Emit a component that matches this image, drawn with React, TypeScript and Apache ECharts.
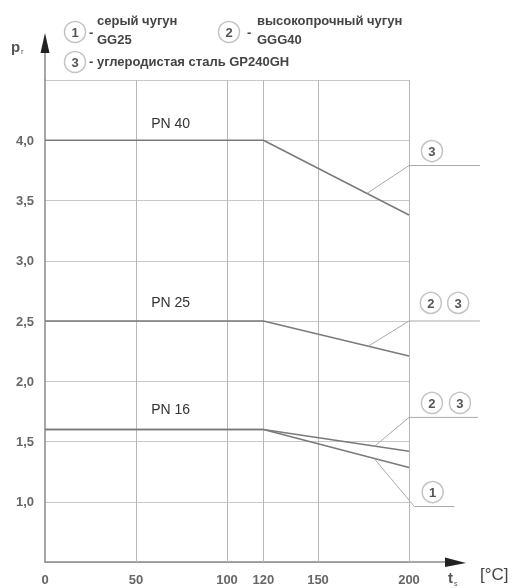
import React, { useEffect, useRef } from 'react';
import * as echarts from 'echarts';

// temperature points (°C) and allowable pressure values (MPa)
const temps = [0, 120, 200];
const pn40Steel = [4.0, 4.0, 3.38];
const pn25GGG = [2.5, 2.5, 2.21];
const pn16GGG = [1.6, 1.6, 1.42];
const pn16GG = [1.6, 1.6, 1.285];

const xTickLabels = [0, 50, 100, 120, 150, 200];
const xGridValues = [50, 100, 120, 150, 200];

// annotations in data space
const pnTexts = ['PN 40', 'PN 25', 'PN 16'];
const pnTextAt = [[69, 4.14], [69, 2.66], [69, 1.77]];
const leaderLines = [
  [[177, 3.56], [200, 3.79], [239, 3.79]],
  [[177.5, 2.29], [200, 2.5], [239, 2.5]],
  [[181, 1.46], [200, 1.7], [238, 1.7]],
  [[181, 1.356], [203, 0.96], [225, 0.96]],
];
const markerNums = ['3', '2', '3', '2', '3', '1'];
const markerAt = [[212.6, 3.91], [212, 2.65], [227, 2.65], [212.6, 1.82], [228, 1.82], [213, 1.08]];

const FONT = '"Liberation Sans", Arial, sans-serif';
const TXT = '#555';

export default function App() {
  const ref = useRef<HTMLDivElement>(null);
  useEffect(() => {
    if (!ref.current) return;
    const chart = echarts.init(ref.current, null, { renderer: 'svg' });
    const lineStyle = { color: '#7a7a7a', width: 1.5 };
    const mk = (name: string, vals: number[]) => ({
      name,
      type: 'line',
      data: temps.map((t, i) => [t, vals[i]]),
      symbol: 'none',
      lineStyle,
      z: 5,
    });
    chart.setOption({
      animation: false,
      grid: { left: 45, right: 103, top: 80, bottom: 26 },
      xAxis: {
        type: 'value',
        min: 0,
        max: 200,
        interval: 10,
        axisLine: { show: true, lineStyle: { color: '#8a8a8a', width: 1.5 } },
        axisTick: { show: false },
        splitLine: { show: false },
        axisLabel: {
          margin: 11,
          fontFamily: FONT,
          fontSize: 13,
          fontWeight: 'bold',
          color: '#666',
          formatter: (v: number) => (xTickLabels.indexOf(v) >= 0 ? String(v) : ''),
        },
      },
      yAxis: {
        type: 'value',
        min: 0.5,
        max: 4.5,
        interval: 0.5,
        axisLine: { show: true, lineStyle: { color: '#8a8a8a', width: 1.5 } },
        axisTick: { show: false },
        splitLine: { show: true, lineStyle: { color: '#c8c8c8', width: 1 } },
        axisLabel: {
          margin: 11,
          fontFamily: FONT,
          fontSize: 13,
          fontWeight: 'bold',
          color: '#666',
          formatter: (v: number) => (v === 0.5 || v === 4.5 ? '' : v.toFixed(1).replace('.', ',')),
        },
      },
      series: [
        {
          type: 'line',
          data: [],
          markLine: {
            silent: true,
            symbol: 'none',
            label: { show: false },
            lineStyle: { color: '#b8b8b8', width: 1, type: 'solid' },
            data: xGridValues.map((v) => ({ xAxis: v })),
          },
        },
        mk('PN40', pn40Steel),
        mk('PN25', pn25GGG),
        mk('PN16-23', pn16GGG),
        mk('PN16-1', pn16GG),
      ],
    });

    const px = (p: number[]) => chart.convertToPixel({ gridIndex: 0 }, p) as number[];
    const g: any[] = [];
    // axis extensions with arrows
    const o = px([0, 0.5]);
    const top = px([0, 4.5]);
    const right = px([200, 0.5]);
    g.push({ type: 'line', shape: { x1: o[0], y1: top[1], x2: o[0], y2: 45 }, style: { stroke: '#8a8a8a', lineWidth: 1.5 } });
    g.push({ type: 'polygon', shape: { points: [[o[0], 33], [o[0] - 4.5, 53], [o[0] + 4.5, 53]] }, style: { fill: '#222' } });
    g.push({ type: 'line', shape: { x1: right[0], y1: o[1], x2: 450, y2: o[1] }, style: { stroke: '#8a8a8a', lineWidth: 1.5 } });
    g.push({ type: 'polygon', shape: { points: [[466, o[1] + 1], [445, o[1] - 4.5], [445, o[1] + 5]] }, style: { fill: '#222' } });
    // axis titles
    g.push({ type: 'text', x: 11, y: 39, style: { text: 'p', font: `bold 15px ${FONT}`, fill: TXT } });
    g.push({ type: 'text', x: 21, y: 47, style: { text: 'r', font: `8px ${FONT}`, fill: TXT } });
    g.push({ type: 'text', x: 448, y: 570, style: { text: 't', font: `bold 15px ${FONT}`, fill: TXT } });
    g.push({ type: 'text', x: 454, y: 580, style: { text: 's', font: `7px ${FONT}`, fill: TXT } });
    g.push({ type: 'text', x: 480, y: 566, style: { text: '[°C]', font: `17px ${FONT}`, fill: '#444' } });

    const circle = (cx: number, cy: number, n: string, r = 10.5) => {
      g.push({ type: 'circle', shape: { cx, cy, r }, style: { fill: '#fff', stroke: '#c4c4c4', lineWidth: 1.5 }, z: 10 });
      g.push({ type: 'text', x: cx, y: cy + 0.5, style: { text: n, font: `bold 13px ${FONT}`, fill: '#555', align: 'center', verticalAlign: 'middle' }, z: 11 });
    };
    // legend
    const leg = (x: number, y: number, t: string) =>
      g.push({ type: 'text', x, y, style: { text: t, font: `bold 13px ${FONT}`, fill: '#444', verticalAlign: 'middle' } });
    circle(75, 32, '1');
    leg(89, 32, '-');
    leg(97, 20, 'серый чугун');
    leg(97, 39, 'GG25');
    circle(229, 32, '2');
    leg(247, 32, '-');
    leg(257, 20, 'высокопрочный чугун');
    leg(257, 39, 'GGG40');
    circle(75, 62, '3');
    leg(89, 61, '- углеродистая сталь GP240GH');

    // PN labels
    pnTexts.forEach((t, i) => {
      const p = px(pnTextAt[i]);
      g.push({ type: 'text', x: p[0], y: p[1], style: { text: t, font: `14px ${FONT}`, fill: '#333', align: 'center', verticalAlign: 'middle' } });
    });
    // leaders
    leaderLines.forEach((pts) => {
      g.push({ type: 'polyline', shape: { points: pts.map(px) }, style: { stroke: '#a8a8a8', lineWidth: 1, fill: 'none' }, z: 6 });
    });
    markerNums.forEach((n, i) => {
      const p = px(markerAt[i]);
      circle(p[0], p[1], n);
    });
    chart.setOption({ graphic: g });
    return () => chart.dispose();
  }, []);
  return <div ref={ref} style={{ position: 'fixed', left: 0, top: 0, width: 512, height: 588 }} />;
}
